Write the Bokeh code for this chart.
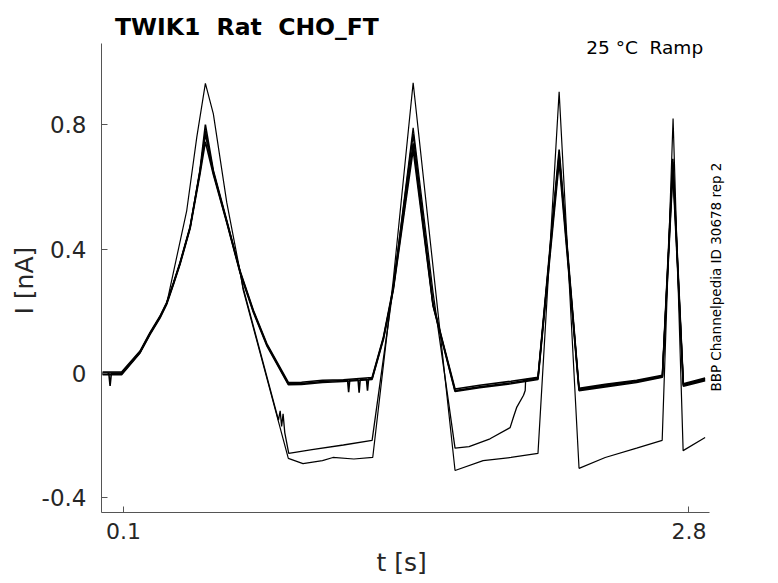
import math
from bokeh.plotting import figure
from bokeh.models import Range1d, FixedTicker, Label, Title
from bokeh.embed import file_html
from bokeh.resources import INLINE

# ---- data ----
x_ticks = [0.1, 2.8]
y_ticks = [-0.4, 0, 0.4, 0.8]
y_tick_labels = ["-0.4", "0", "0.4", "0.8"]
x_axis_span = (-0.005, 2.9)
y_axis_span = (-0.447, 1.061)

title_text = "TWIK1 \u00a0Rat \u00a0CHO_FT"
cond_text = "25 °C \u00a0Ramp"
id_text = "BBP Channelpedia ID 30678 rep 2"
x_label = "t [s]"
y_label = "I [nA]"

# upper bundle sweeps
a1_t = [0.0, 0.03, 0.036, 0.042, 0.091, 0.179, 0.227, 0.274, 0.306, 0.338, 0.370, 0.418, 0.465, 0.491, 0.529, 0.593, 0.656,
        0.720, 0.784, 0.887, 0.95, 1.05, 1.15, 1.287, 1.341, 1.388, 1.483, 1.578, 1.627, 1.683, 1.80, 1.95, 2.079, 2.180,
        2.275, 2.40, 2.55, 2.673, 2.723, 2.773, 2.877]
a1_i = [0.0, 0.0, -0.04, 0.0, 0.0, 0.069, 0.129, 0.181, 0.225, 0.288, 0.354, 0.469, 0.653, 0.80, 0.653, 0.492, 0.331,
        0.203, 0.096, -0.029, -0.028, -0.022, -0.02, -0.013, 0.117, 0.277, 0.77, 0.224, 0.095, -0.05, -0.038, -0.025, -0.012, 0.72,
        -0.048, -0.035, -0.022, -0.006, 0.69, -0.033, -0.015]

a2_t = [0.0, 0.091, 0.179, 0.227, 0.274, 0.306, 0.338, 0.370, 0.418, 0.465, 0.491, 0.529, 0.593, 0.656, 0.720, 0.784, 0.887,
        0.95, 1.05, 1.17, 1.175, 1.18, 1.22, 1.225, 1.23, 1.26, 1.265, 1.27, 1.287, 1.341, 1.388, 1.483, 1.578, 1.627, 1.683,
        1.80, 1.95, 2.079, 2.180, 2.275, 2.40, 2.55, 2.673, 2.723, 2.773, 2.877]
a2_i = [0.005, 0.005, 0.072, 0.132, 0.184, 0.228, 0.291, 0.357, 0.472, 0.648, 0.77, 0.645, 0.488, 0.328, 0.200, 0.093, -0.033,
        -0.032, -0.026, -0.022, -0.06, -0.022, -0.02, -0.062, -0.02, -0.018, -0.055, -0.018, -0.016, 0.113, 0.272, 0.74, 0.220, 0.092, -0.055,
        -0.043, -0.03, -0.016, 0.70, -0.052, -0.04, -0.026, -0.01, 0.67, -0.038, -0.02]

a3_t = [0.0, 0.091, 0.179, 0.227, 0.274, 0.306, 0.338, 0.370, 0.418, 0.465, 0.491, 0.529, 0.593, 0.656, 0.720, 0.784, 0.887,
        0.95, 1.05, 1.15, 1.287, 1.341, 1.388, 1.483, 1.578, 1.627, 1.683, 1.80, 1.95, 2.079, 2.180, 2.275, 2.40, 2.55, 2.673,
        2.723, 2.773, 2.877]
a3_i = [-0.004, -0.004, 0.066, 0.126, 0.178, 0.222, 0.285, 0.351, 0.466, 0.640, 0.745, 0.640, 0.485, 0.325, 0.197, 0.090, -0.036,
        -0.035, -0.029, -0.026, -0.019, 0.110, 0.268, 0.72, 0.218, 0.090, -0.058, -0.046, -0.033, -0.019, 0.68, -0.055, -0.043, -0.029, -0.012,
        0.65, -0.041, -0.023]

# sweep that drops to the middle level, then recovers near 2.0 s
c_t = [0.0, 0.091, 0.179, 0.227, 0.274, 0.306, 0.338, 0.370, 0.418, 0.465, 0.491, 0.529, 0.593, 0.656, 0.671, 0.84, 0.848, 0.855,
       0.862, 0.87, 0.889, 1.0, 1.15, 1.287, 1.388, 1.483, 1.578, 1.683, 1.75, 1.85, 1.946, 1.962, 1.978, 2.01, 2.018, 2.020,
       2.079, 2.180, 2.275, 2.40, 2.55, 2.673, 2.723, 2.773, 2.877]
c_i = [0.002, 0.002, 0.07, 0.13, 0.182, 0.226, 0.289, 0.355, 0.47, 0.65, 0.78, 0.65, 0.49, 0.33, 0.276, -0.15, -0.12, -0.17,
       -0.13, -0.19, -0.257, -0.245, -0.23, -0.215, 0.277, 0.79, 0.26, -0.24, -0.235, -0.21, -0.174, -0.14, -0.108, -0.07, -0.055, -0.02,
       -0.014, 0.71, -0.05, -0.037, -0.024, -0.008, 0.68, -0.035, -0.018]

# sweep with the tallest peaks and the lowest level
d_t = [0.0, 0.091, 0.179, 0.227, 0.274, 0.306, 0.354, 0.402, 0.450, 0.491, 0.529, 0.593, 0.656, 0.671, 0.887, 0.957, 1.05,
       1.1, 1.2, 1.29, 1.388, 1.483, 1.683, 1.817, 1.95, 2.079, 2.180, 2.275, 2.40, 2.55, 2.672, 2.724, 2.772, 2.877]
d_i = [-0.002, -0.002, 0.067, 0.128, 0.18, 0.224, 0.374, 0.524, 0.76, 0.933, 0.835, 0.55, 0.33, 0.27, -0.273, -0.29, -0.28,
       -0.27, -0.275, -0.27, 0.30, 0.935, -0.312, -0.28, -0.27, -0.257, 0.906, -0.305, -0.27, -0.24, -0.215, 0.82, -0.248, -0.206]

# ---- figure ----
W, H = 776, 581
left, bottom = 101, 69
px_per_s = 565.5 / 2.7
px_per_nA = 311.0
x0 = x_axis_span[0]
x1 = x0 + (W - left) / px_per_s
y0 = y_axis_span[0]
y1 = y0 + (H - bottom) / px_per_nA

p = figure(width=W, height=H, output_backend="svg", toolbar_location=None,
           x_range=Range1d(x0, x1), y_range=Range1d(y0, y1),
           min_border_left=left, min_border_right=0, min_border_top=0, min_border_bottom=bottom)
p.xgrid.visible = False
p.ygrid.visible = False
p.outline_line_color = None
p.background_fill_color = "white"
p.border_fill_color = "white"

for t, i, w in [(a1_t, a1_i, 1.6), (a2_t, a2_i, 1.6), (a3_t, a3_i, 1.6), (c_t, c_i, 1.3), (d_t, d_i, 1.2)]:
    p.line(t, i, line_color="black", line_width=w)

axis_col = "#555555"
txt_col = "#262626"
for ax in (p.xaxis[0], p.yaxis[0]):
    ax.axis_line_color = axis_col
    ax.major_tick_line_color = axis_col
    ax.minor_tick_line_color = None
    ax.major_tick_in = 6
    ax.major_tick_out = 0
    ax.major_label_text_font = "DejaVu Sans"
    ax.major_label_text_color = txt_col
p.xaxis.major_label_text_font_size = "22px"
p.yaxis.major_label_text_font_size = "23px"

p.xaxis.bounds = x_axis_span
p.yaxis.bounds = y_axis_span
p.xaxis.ticker = FixedTicker(ticks=x_ticks)
p.yaxis.ticker = FixedTicker(ticks=y_ticks)
p.yaxis.major_label_overrides = {v: s for v, s in zip(y_ticks, y_tick_labels)}
p.xaxis.major_label_standoff = 10
p.yaxis.major_label_standoff = 15

# axis labels as side titles, positioned along the drawn axis span
p.add_layout(Title(text=x_label, align="left", offset=275, standoff=8, vertical_align="bottom",
                   text_font="DejaVu Sans", text_font_size="25px", text_font_style="normal",
                   text_color=txt_col), "below")
p.add_layout(Title(text=y_label, align="left", offset=198, standoff=0, vertical_align="bottom",
                   text_font="DejaVu Sans", text_font_size="25px", text_font_style="normal",
                   text_color=txt_col), "left")

p.add_layout(Label(x=0.0594, y=1.114, text=title_text, text_font="DejaVu Sans", text_font_style="bold",
                   text_font_size="23.5px", text_align="left", text_baseline="alphabetic", text_color="black"))
p.add_layout(Label(x=2.8675, y=1.047, text=cond_text, text_font="DejaVu Sans",
                   text_font_size="18.5px", text_align="right", text_baseline="alphabetic", text_color="black"))
p.add_layout(Label(x=2.93, y=0.31, text=id_text, text_font="DejaVu Sans", angle=math.pi / 2,
                   text_font_size="13.5px", text_align="center", text_baseline="middle", text_color="black"))

open("out.html", "w").write(file_html(p, INLINE))
